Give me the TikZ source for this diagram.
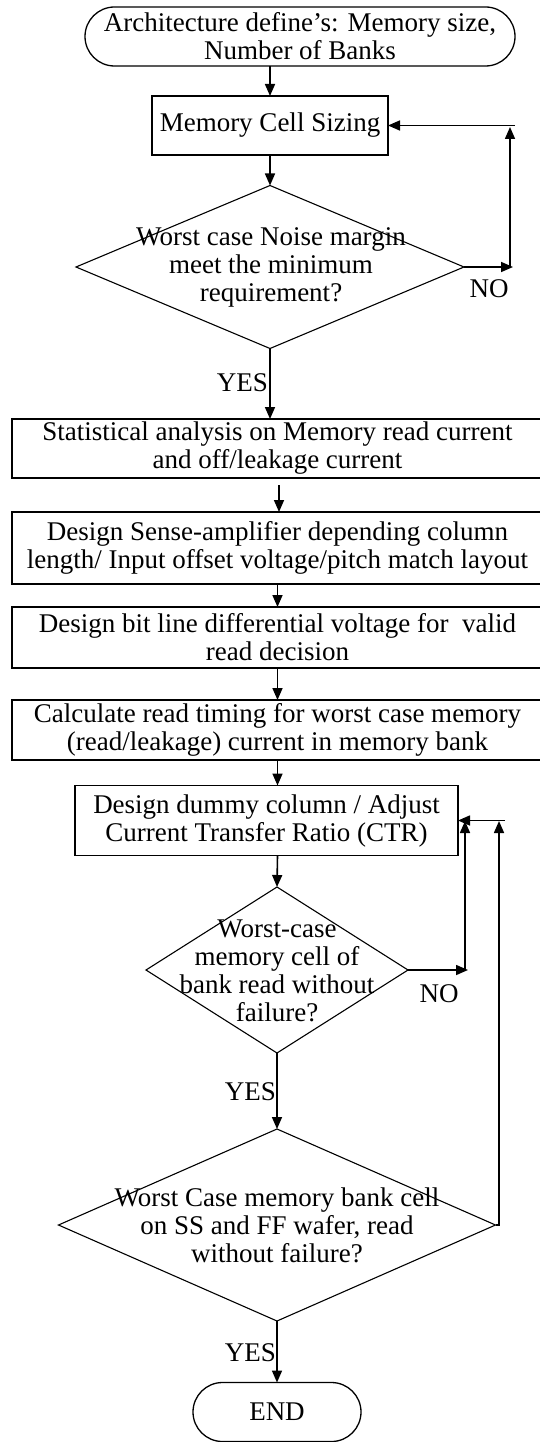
\documentclass[tikz,border=0pt]{standalone}
\usepackage{fontspec}
\setmainfont{Liberation Serif}
\usetikzlibrary{shapes.geometric,shapes.misc,arrows.meta}
\begin{document}
\begin{tikzpicture}[x=1pt,y=-1pt,
  every node/.style={font=\fontsize{27}{28}\selectfont, inner sep=0pt, outer sep=0pt},
  term/.style={draw, rounded rectangle, line width=1.3pt, align=center},
  proc/.style={draw, rectangle, line width=1.4pt, align=center},
  dec/.style={draw, diamond, line width=1.1pt},
  txt/.style={align=center},
  flow/.style={line width=1.6pt, -{Triangle[length=12pt,width=10pt]}}]
\useasboundingbox (0,0) rectangle (540,1442);
\clip (0,0) rectangle (540,1442);

% main column
\node[term, minimum width=430pt, minimum height=59pt] (start) at (300,36.5)
  {Architecture define’s: Memory size,\\Number of Banks};
\node[proc, minimum width=236pt, minimum height=59pt] (b1) at (270,125.5)
  {Memory Cell Sizing};
\node[dec, minimum width=388pt, minimum height=163pt] (d1) at (270,267) {};
\node[txt] (d1t) at (271,267)
  {Worst case Noise margin\\meet the minimum\\requirement?};
\node[proc, minimum width=531pt, minimum height=59pt] (b2) at (277.5,448.5)
  {Statistical analysis on Memory read current\\and off/leakage current};
\node[proc, minimum width=531pt, minimum height=72pt] (b3) at (277.5,548)
  {Design Sense-amplifier depending column\\length/ Input offset voltage/pitch match layout};
\node[proc, minimum width=531pt, minimum height=61pt] (b4) at (277.5,637.5)
  {Design bit line differential voltage for~ valid\\read decision};
\node[proc, minimum width=531pt, minimum height=60pt] (b5) at (277.5,730)
  {Calculate read timing for worst case memory\\(read/leakage) current in memory bank};
\node[proc, minimum width=383pt, minimum height=70pt] (b6) at (266.5,820.5)
  {Design dummy column / Adjust\\Current Transfer Ratio (CTR)};
\node[dec, minimum width=262pt, minimum height=166pt] (d2) at (277,970) {};
\node[txt] (d2t) at (277,971)
  {Worst-case\\memory cell of\\bank read without\\failure?};
\node[dec, minimum width=437pt, minimum height=192pt] (d3) at (277,1225) {};
\node[txt] (d3t) at (277,1225)
  {Worst Case memory bank cell\\on SS and FF wafer, read\\without failure?};
\node[term, minimum width=168pt, minimum height=59pt] (end) at (277,1412) {END};

% branch labels
\node[anchor=east] (yes1) at (268,383) {YES};
\node[anchor=east] (yes2) at (276,1092) {YES};
\node[anchor=east] (yes3) at (276,1353) {YES};
\node (no1) at (489,289) {NO};
\node (no2) at (439,994) {NO};

% forward flow
\draw[flow] (b1.north |- start.south) -- (b1.north);
\draw[flow] (b1.south) -- (d1.north);
\draw[flow] (d1.south) -- (d1.south |- b2.north);
\draw[flow] ([xshift=1.5pt,yshift=-7pt]b2.south) -- ([xshift=1.5pt]b3.north);
\draw[flow] ([yshift=-1pt]b3.south) -- (b4.north);
\draw[flow] ([yshift=-1pt]b4.south) -- (b5.north);
\draw[flow] (b5.south) -- (b5.south |- b6.north);
\draw[flow] (b5.south |- b6.south) -- (d2.north);
\draw[flow] (d2.south) -- (d3.north);
\draw[flow] (d3.south) -- (end.north);

% loop back from the noise-margin check
\coordinate (f1a) at (513,267);
\coordinate (f1b) at (510,267);
\coordinate (f1c) at (510,127);
\coordinate (f1d) at (515,125.5);
\draw[flow] (d1.east) -- (f1a);
\draw[flow] (f1b) -- (f1c);
\draw[flow] (f1d) -- (b1.east);

% loop back to the dummy column step
\coordinate (f2a) at (468,970);
\coordinate (f2b) at (465,970);
\coordinate (f2c) at (465,821);
\coordinate (f2d) at (505,820.5);
\coordinate (f3a) at (499,1225);
\coordinate (f3b) at (499,821);
\draw[flow] (d2.east) -- (f2a);
\draw[flow] (f2b) -- (f2c);
\draw[flow] (f2d) -- (b6.east);
\draw[flow] (d3.east) -- (f3a) -- (f3b);
\end{tikzpicture}
\end{document}
